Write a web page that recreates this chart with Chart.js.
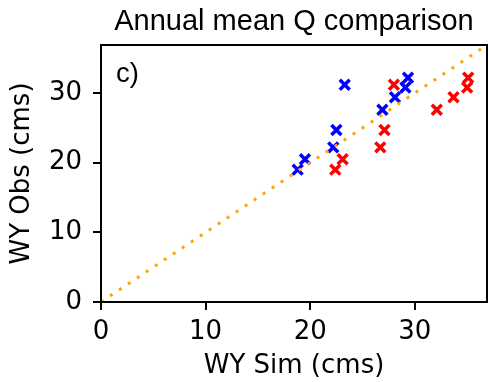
<!DOCTYPE html>
<html>
<head>
<meta charset="utf-8">
<script src="https://cdn.jsdelivr.net/npm/chart.js@4/dist/chart.umd.min.js"></script>
<style>
  html, body { margin: 0; padding: 0; background: #fff; }
  #wrap { width: 489px; height: 382px; }
</style>
</head>
<body>
<div id="wrap"><canvas id="chart"></canvas></div>
<script>
// observed annual mean Q (shared by both runs)
var obsQ = [31.2, 32.2, 30.8, 29.4, 27.6, 24.7, 22.2, 20.5, 19.0];
// simulated annual mean Q, blue run
var simBlue = [23.3, 29.35, 29.1, 28.1, 26.9, 22.5, 22.2, 19.5, 18.8];
// simulated annual mean Q, red run
var simRed = [28.0, 35.1, 35.0, 33.7, 32.1, 27.1, 26.7, 23.1, 22.4];
var axisMax = 36.9;
var tickVals = [0, 10, 20, 30];

function pairs(xs, ys) {
    return xs.map(function (x, i) { return {x: x, y: ys[i]}; });
}

var font = "'DejaVu Sans', sans-serif";
var sans = "'Liberation Sans', Arial, sans-serif";

// box around the plot area, title and the "c)" panel label
var framePlugin = {
    id: 'frame',
    afterDraw: function (chart) {
        var a = chart.chartArea, ctx = chart.ctx;
        ctx.save();
        ctx.strokeStyle = '#000';
        ctx.lineWidth = 2;
        ctx.strokeRect(a.left, a.top, a.right - a.left, a.bottom - a.top);
        ctx.fillStyle = '#000';
        ctx.textBaseline = 'alphabetic';
        ctx.font = '29px ' + sans;
        ctx.textAlign = 'center';
        ctx.fillText('Annual mean Q comparison', (a.left + a.right) / 2, 30);
        ctx.font = '27.5px ' + sans;
        ctx.textAlign = 'left';
        ctx.fillText('c)', a.left + 15, 82);
        ctx.restore();
    }
};

function fixX(s) { s.height = 80; s.paddingLeft = 0; s.paddingRight = 0; }
function fixY(s) { s.width = 101; s.paddingTop = 0; s.paddingBottom = 0; }

new Chart(document.getElementById('chart').getContext('2d'), {
    type: 'scatter',
    data: {
        datasets: [
            {
                label: '1:1',
                data: [{x: 0, y: 0}, {x: 40, y: 40}],
                showLine: true,
                borderColor: '#ffa500',
                borderWidth: 3,
                borderDash: [3, 7.8],
                pointRadius: 0,
                fill: false,
                order: 0
            },
            {
                label: 'red',
                data: pairs(simRed, obsQ),
                pointStyle: 'crossRot',
                pointRadius: 7,
                borderColor: '#ff0000',
                backgroundColor: '#ff0000',
                borderWidth: 3.5,
                pointBorderWidth: 3.5,
                order: 2
            },
            {
                label: 'blue',
                data: pairs(simBlue, obsQ),
                pointStyle: 'crossRot',
                pointRadius: 7,
                borderColor: '#0000ff',
                backgroundColor: '#0000ff',
                borderWidth: 3.5,
                pointBorderWidth: 3.5,
                order: 1
            }
        ]
    },
    options: {
        responsive: true,
        maintainAspectRatio: false,
        animation: false,
        layout: {autoPadding: false, padding: {left: 0, right: 2, top: 45, bottom: 0}},
        plugins: {
            legend: {display: false},
            tooltip: {enabled: false}
        },
        scales: {
            x: {
                type: 'linear',
                min: 0,
                max: axisMax,
                afterBuildTicks: function (s) { s.ticks = tickVals.map(function (v) { return {value: v}; }); },
                afterFit: fixX,
                grid: {drawOnChartArea: false, drawTicks: true, tickLength: 8, color: '#000', lineWidth: 2},
                border: {display: true, color: '#000', width: 2},
                ticks: {color: '#000', font: {family: font, size: 26}, padding: 7, maxRotation: 0},
                title: {display: true, text: 'WY Sim (cms)', color: '#000', font: {family: font, size: 26}, padding: {top: 0, bottom: 0}}
            },
            y: {
                type: 'linear',
                min: 0,
                max: axisMax,
                afterBuildTicks: function (s) { s.ticks = tickVals.map(function (v) { return {value: v}; }); },
                afterFit: fixY,
                grid: {drawOnChartArea: false, drawTicks: true, tickLength: 8, color: '#000', lineWidth: 2},
                border: {display: true, color: '#000', width: 2},
                ticks: {color: '#000', font: {family: font, size: 26}, padding: 11},
                title: {display: true, text: 'WY Obs (cms)', color: '#000', font: {family: font, size: 26}, padding: {top: 7, bottom: 0}}
            }
        }
    },
    plugins: [framePlugin]
});
</script>
</body>
</html>
